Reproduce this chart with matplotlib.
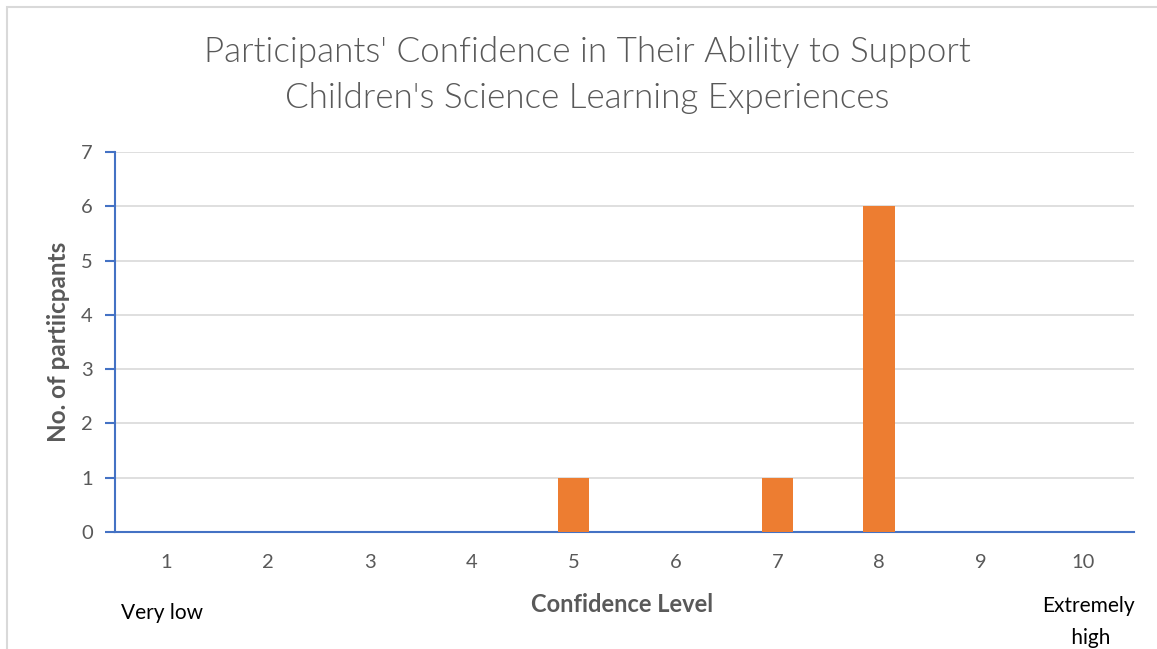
import matplotlib
matplotlib.use("Agg")
import matplotlib.pyplot as plt
from matplotlib.patches import Rectangle

levels = ["1", "2", "3", "4", "5", "6", "7", "8", "9", "10"]
counts = [0, 0, 0, 0, 1, 0, 1, 6, 0, 0]
title = "Participants' Confidence in Their Ability to Support\nChildren's Science Learning Experiences"
ylabel = "No. of partiicpants"
xlabel = "Confidence Level"

plt.rcParams['font.family'] = ['Lato', 'DejaVu Sans']

fig = plt.figure(figsize=(11.57, 6.49), dpi=100)
# outer chart border (extends beyond image on right/bottom)
fig.patches.append(Rectangle((7/1157, -0.1), 1.2, 1 - 7/649 + 0.1, transform=fig.transFigure,
                             fill=False, edgecolor="#D9D9D9", linewidth=1.5))

ax = fig.add_axes([115/1157, 1 - 532/649, (1134 - 115)/1157, (532 - 152)/649])
x = list(range(len(levels)))
ax.bar(x, counts, width=0.31, color="#ED7D31", zorder=3)
ax.set_xlim(-0.5, len(levels) - 0.5)
ax.set_ylim(0, 7)
ax.set_yticks(range(0, 8))
ax.set_xticks(x)
ax.set_xticklabels(levels)
ax.grid(axis="y", color="#D9D9D9", linewidth=1.2, zorder=0)
ax.set_axisbelow(True)
for s in ["top", "right"]:
    ax.spines[s].set_visible(False)
for s in ["left", "bottom"]:
    ax.spines[s].set_color("#4472C4")
    ax.spines[s].set_linewidth(1.5)
ax.tick_params(axis="y", length=7, color="#4472C4", width=1.5, labelsize=14.5, labelcolor="#595959", pad=9)
ax.tick_params(axis="x", length=0, labelsize=14.5, labelcolor="#595959", pad=16)

fig.text(587/1157, 1 - 75/649, title, ha="center", va="center", fontsize=25.2,
         color="#595959", fontweight=300, linespacing=1.52)
fig.text(58/1157, 1 - 342/649, ylabel, rotation=90, ha="center", va="center",
         fontsize=17.5, fontweight="bold", color="#595959")
fig.text(622/1157, 1 - 605/649, xlabel, ha="center", va="center",
         fontsize=17, fontweight="bold", color="#595959")
fig.text(162/1157, 1 - 613/649, "Very low", ha="center", va="center",
         fontsize=15, color="black")
fig.text(1088/1157, 1 - 622/649, "Extremely\n high", ha="center", va="center",
         fontsize=15, color="black", linespacing=1.75)

fig.savefig("out.png", dpi=100)
